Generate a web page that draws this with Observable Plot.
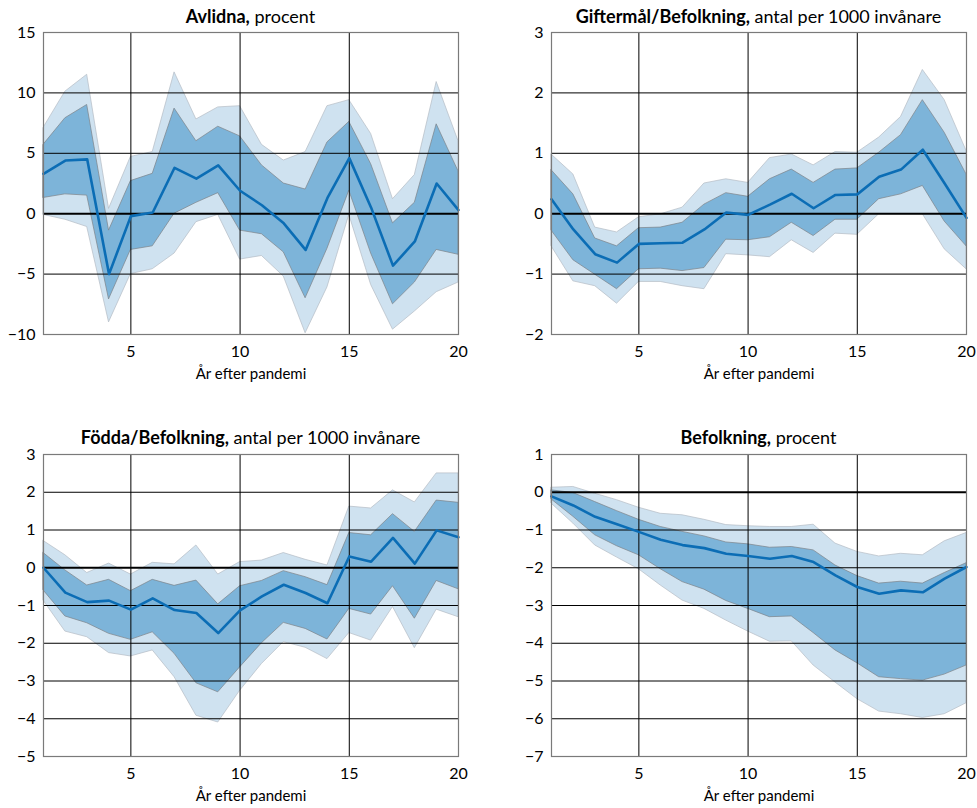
<!DOCTYPE html>
<html>
<head>
<meta charset="utf-8">
<script src="https://cdn.jsdelivr.net/npm/d3@7"></script>
<script src="https://cdn.jsdelivr.net/npm/@observablehq/plot@0.6"></script>
<style>
  html, body { margin: 0; padding: 0; background: #fff; }
  #root { position: relative; width: 977px; height: 808px; font-family: Lato, "Open Sans", sans-serif; color: #000; }
  .panel { position: absolute; }
  .title { position: absolute; font-size: 18px; white-space: nowrap; transform: translateX(-50%); line-height: 1; }
  .title b { font-weight: 700; }
</style>
</head>
<body>
<div id="root"></div>
<script>
const years = [1,2,3,4,5,6,7,8,9,10,11,12,13,14,15,16,17,18,19,20];
const xTicks = [5,10,15,20];
const xLabel = "År efter pandemi";

// Avlidna, procent
const avlidnaMed     = [3.3,4.4,4.5,-5.0,-0.2,0.1,3.8,2.9,4.0,1.9,0.7,-0.8,-3.0,1.3,4.6,0.5,-4.3,-2.3,2.5,0.3];
const avlidnaInnerHi = [5.7,7.9,9.0,-1.4,2.7,3.3,8.7,6.0,7.2,6.4,4.0,2.5,2.0,5.9,7.6,4.1,-0.8,0.9,7.4,3.5];
const avlidnaInnerLo = [1.3,1.6,1.5,-7.1,-3.0,-2.7,0.0,0.9,1.7,-1.4,-1.7,-3.2,-7.0,-2.9,1.9,-3.3,-7.5,-5.7,-3.0,-3.4];
const avlidnaOuterHi = [7.1,10.1,11.5,0.4,4.7,5.1,11.7,7.8,8.8,8.9,5.7,4.4,5.1,8.9,9.4,6.6,1.2,3.2,10.9,6.0];
const avlidnaOuterLo = [-0.1,-0.5,-1.1,-9.0,-5.0,-4.6,-3.3,-0.7,-0.1,-3.8,-3.5,-5.2,-9.9,-6.1,-0.1,-5.9,-9.6,-8.1,-6.5,-5.7];
const avlidnaTicks   = [-10,-5,0,5,10,15];

// Giftermål/Befolkning, antal per 1000 invånare
const giftMed     = [0.24,-0.26,-0.67,-0.81,-0.50,-0.49,-0.48,-0.26,0.02,-0.02,0.15,0.33,0.09,0.31,0.32,0.61,0.73,1.06,0.50,-0.07];
const giftInnerHi = [0.72,0.32,-0.41,-0.54,-0.24,-0.23,-0.15,0.15,0.34,0.28,0.57,0.73,0.51,0.73,0.75,1.01,1.30,1.88,1.34,0.65];
const giftInnerLo = [-0.28,-0.77,-1.01,-1.25,-0.92,-0.91,-0.95,-0.90,-0.43,-0.44,-0.39,-0.15,-0.37,-0.10,-0.10,0.24,0.32,0.46,-0.13,-0.54];
const giftOuterHi = [0.98,0.65,-0.23,-0.31,-0.06,-0.01,0.10,0.50,0.57,0.51,0.92,0.98,0.80,1.02,1.01,1.26,1.60,2.38,1.88,1.04];
const giftOuterLo = [-0.54,-1.12,-1.20,-1.49,-1.13,-1.13,-1.20,-1.25,-0.67,-0.69,-0.72,-0.44,-0.65,-0.33,-0.35,-0.01,-0.01,-0.01,-0.59,-0.92];
const giftTicks   = [-2,-1,0,1,2,3];

// Födda/Befolkning, antal per 1000 invånare
const foddaMed     = [0.0,-0.66,-0.91,-0.87,-1.11,-0.81,-1.12,-1.20,-1.73,-1.13,-0.76,-0.45,-0.67,-0.94,0.30,0.16,0.79,0.11,0.99,0.81];
const foddaInnerHi = [0.39,-0.07,-0.47,-0.32,-0.62,-0.32,-0.48,-0.34,-0.97,-0.49,-0.35,-0.09,-0.25,-0.46,0.92,0.86,1.42,0.95,1.78,1.72];
const foddaInnerLo = [-0.60,-1.29,-1.47,-1.75,-1.91,-1.71,-2.28,-3.06,-3.30,-2.64,-2.00,-1.46,-1.62,-1.90,-1.09,-1.24,-0.49,-1.35,-0.35,-0.57];
const foddaOuterHi = [0.71,0.33,-0.14,0.11,-0.18,0.13,0.09,0.59,-0.18,0.15,0.19,0.39,0.21,0.06,1.62,1.57,2.05,1.73,2.50,2.50];
const foddaOuterLo = [-0.87,-1.69,-1.84,-2.26,-2.35,-2.19,-2.90,-3.92,-4.10,-3.26,-2.55,-1.97,-2.12,-2.42,-1.73,-1.93,-1.04,-2.13,-1.11,-1.31];
const foddaTicks   = [-5,-4,-3,-2,-1,0,1,2,3];

// Befolkning, procent
const befMed     = [-0.11,-0.35,-0.65,-0.85,-1.05,-1.26,-1.40,-1.48,-1.63,-1.69,-1.76,-1.69,-1.85,-2.20,-2.51,-2.69,-2.60,-2.65,-2.29,-1.98];
const befInnerHi = [0.05,-0.02,-0.26,-0.50,-0.73,-0.92,-1.05,-1.17,-1.33,-1.38,-1.47,-1.45,-1.54,-1.94,-2.22,-2.42,-2.37,-2.42,-2.14,-1.88];
const befInnerLo = [-0.19,-0.65,-1.14,-1.43,-1.67,-2.04,-2.38,-2.58,-2.88,-3.09,-3.31,-3.29,-3.73,-4.19,-4.53,-4.90,-4.95,-4.99,-4.83,-4.59];
const befOuterHi = [0.12,0.14,-0.04,-0.21,-0.41,-0.57,-0.61,-0.73,-0.87,-0.90,-0.92,-0.92,-0.86,-1.36,-1.58,-1.70,-1.63,-1.67,-1.30,-1.08];
const befOuterLo = [-0.30,-0.83,-1.41,-1.73,-2.04,-2.47,-2.87,-3.09,-3.40,-3.69,-3.96,-3.95,-4.59,-5.04,-5.48,-5.81,-5.88,-5.98,-5.88,-5.59];
const befTicks   = [-7,-6,-5,-4,-3,-2,-1,0,1];

const panels = [
  {bold: "Avlidna,", rest: " procent", left: 0, top: 0, width: 488, height: 390, ml: 43, mr: 30, mt: 32, mb: 56,
   ticks: avlidnaTicks, s: [avlidnaMed, avlidnaInnerLo, avlidnaInnerHi, avlidnaOuterLo, avlidnaOuterHi], ty: 7},
  {bold: "Giftermål/Befolkning,", rest: " antal per 1000 invånare", left: 490, top: 0, width: 487, height: 390, ml: 61, mr: 11, mt: 32, mb: 56,
   ticks: giftTicks, s: [giftMed, giftInnerLo, giftInnerHi, giftOuterLo, giftOuterHi], ty: 7},
  {bold: "Födda/Befolkning,", rest: " antal per 1000 invånare", left: 0, top: 420, width: 488, height: 388, ml: 43, mr: 30, mt: 34, mb: 52,
   ticks: foddaTicks, s: [foddaMed, foddaInnerLo, foddaInnerHi, foddaOuterLo, foddaOuterHi], ty: 428},
  {bold: "Befolkning,", rest: " procent", left: 490, top: 420, width: 487, height: 388, ml: 61, mr: 11, mt: 34, mb: 52,
   ticks: befTicks, s: [befMed, befInnerLo, befInnerHi, befOuterLo, befOuterHi], ty: 428}
];

const root = document.getElementById("root");
for (const p of panels) {
  const [med, il, ih, ol, oh] = p.s;
  const rows = years.map((x, i) => ({x, m: med[i], il: il[i], ih: ih[i], ol: ol[i], oh: oh[i]}));
  const yDomain = [p.ticks[0], p.ticks[p.ticks.length - 1]];
  const inner = p.ticks.slice(1, -1).filter(t => t !== 0);
  const chart = Plot.plot({
    width: p.width, height: p.height,
    marginLeft: p.ml, marginRight: p.mr, marginTop: p.mt, marginBottom: p.mb,
    style: {fontFamily: "Lato, 'Open Sans', sans-serif", fontSize: "16px", color: "#000", background: "transparent", overflow: "visible"},
    x: {domain: [1, 20]},
    y: {domain: yDomain},
    marks: [
      Plot.areaY(rows, {x: "x", y1: "ol", y2: "oh", fill: "#cfe2f0", stroke: "#b4bcc4", strokeWidth: 0.7}),
      Plot.areaY(rows, {x: "x", y1: "il", y2: "ih", fill: "#7db4d9", stroke: "#7d8288", strokeWidth: 0.7}),
      Plot.ruleY(inner, {stroke: "#000", strokeWidth: 1}),
      Plot.ruleX(xTicks.filter(t => t < 20), {stroke: "#000", strokeWidth: 1}),
      Plot.ruleY([0], {stroke: "#000", strokeWidth: 2}),
      Plot.lineY(rows, {x: "x", y: "m", stroke: "#0b6db5", strokeWidth: 2.6}),
      Plot.frame({stroke: "#7a7a7a", strokeWidth: 1.2}),
      Plot.axisY({ticks: p.ticks, tickSize: 0, tickPadding: 8, label: null, tickFormat: d3.format("")}),
      Plot.axisX({ticks: xTicks, tickSize: 0, tickPadding: 11, label: null}),
      Plot.axisX({ticks: [], tickSize: 0, label: xLabel, labelAnchor: "center", labelOffset: 44, labelArrow: "none", fontSize: 15})
    ]
  });
  chart.classList.add("panel");
  chart.style.left = p.left + "px";
  chart.style.top = p.top + "px";
  root.appendChild(chart);
  const t = document.createElement("div");
  t.className = "title";
  t.style.left = (p.left + p.ml + (p.width - p.ml - p.mr) / 2) + "px";
  t.style.top = p.ty + "px";
  const b = document.createElement("b");
  b.textContent = p.bold;
  t.appendChild(b);
  t.appendChild(document.createTextNode(p.rest));
  root.appendChild(t);
}
</script>
</body>
</html>
